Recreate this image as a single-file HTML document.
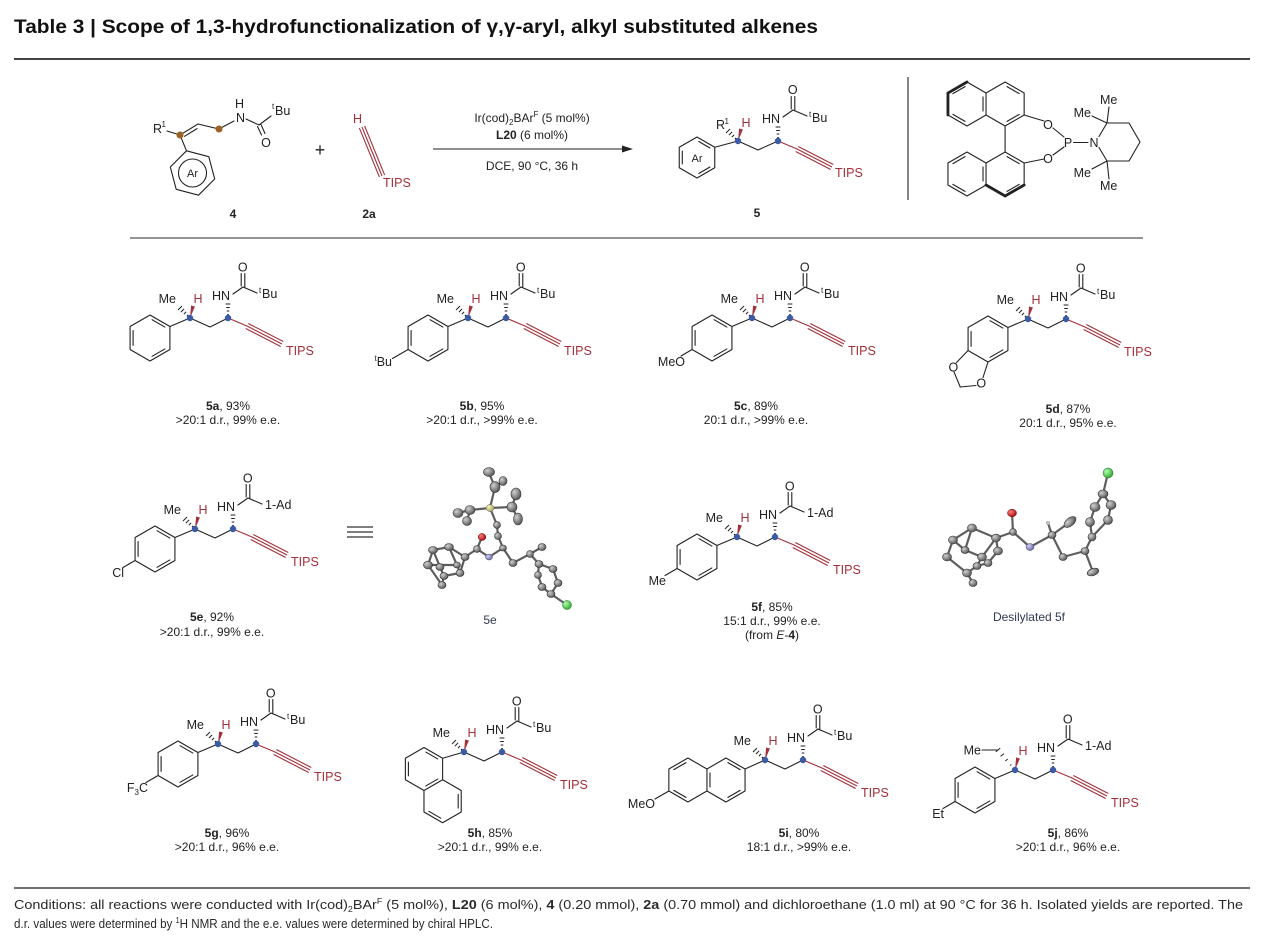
<!DOCTYPE html>
<html><head><meta charset="utf-8"><style>
html,body{margin:0;padding:0;background:#fff}
svg{display:block;font-family:"Liberation Sans",Arial,sans-serif;font-size:12.5px;fill:#222}
.k{fill:none;stroke:#222;stroke-width:1.1;stroke-linejoin:round;stroke-linecap:round}
.kb{fill:none;stroke:#222;stroke-width:2.8;stroke-linecap:round}
.h{fill:none;stroke:#222;stroke-width:1}
.r{fill:none;stroke:#a3303a;stroke-width:1.1}
.rf{fill:#a3303a}
text.rt{fill:#a3303a}
.bd{fill:#3b5ba5}
text.lb{font-size:12px;fill:#222}
.xb{stroke:#5e5e5e;stroke-width:2.2;fill:none;stroke-linecap:round}
.xa{fill:url(#g);stroke:#333;stroke-width:.6}
</style></head><body>
<svg width="1269" height="950" viewBox="0 0 1269 950" xmlns="http://www.w3.org/2000/svg">
<defs>
<radialGradient id="g" cx="0.35" cy="0.35" r="0.75"><stop offset="0" stop-color="#d0d0d0"/><stop offset="1" stop-color="#4a4a4a"/></radialGradient>
<radialGradient id="gr" cx="0.35" cy="0.35" r="0.75"><stop offset="0" stop-color="#ff8080"/><stop offset="1" stop-color="#a00000"/></radialGradient>
<radialGradient id="gb" cx="0.35" cy="0.35" r="0.75"><stop offset="0" stop-color="#d0d0f0"/><stop offset="1" stop-color="#6060a0"/></radialGradient>
<radialGradient id="gg" cx="0.35" cy="0.35" r="0.75"><stop offset="0" stop-color="#b0ffb0"/><stop offset="1" stop-color="#20a020"/></radialGradient>
<radialGradient id="gy" cx="0.35" cy="0.35" r="0.75"><stop offset="0" stop-color="#f4f4c0"/><stop offset="1" stop-color="#a0a050"/></radialGradient>
</defs>

<!-- Title -->
<text x="14" y="33" font-size="19.5" font-weight="bold" fill="#111" textLength="804" lengthAdjust="spacingAndGlyphs">Table 3 | Scope of 1,3-hydrofunctionalization of γ,γ-aryl, alkyl substituted alkenes</text>
<line x1="14" y1="59" x2="1250" y2="59" stroke="#444" stroke-width="2"/>

<!-- ===== Scheme: compound 4 ===== -->
<g>
<text x="153" y="133">R</text><text x="161.5" y="127" font-size="8">1</text>
<path class="k" d="M167,131L180,135M180,135L198,124M184.5,136.3L197.1,128.6M198,124L219,129L234,121M246,119L259,125L271,116M257.5,126.5L261.5,135M261,124.5L265,133.5"/>
<text x="236" y="122">N</text>
<text x="235" y="108">H</text>
<text x="272" y="109" font-size="8">t</text><text x="275" y="115">Bu</text>
<text x="266" y="147" text-anchor="middle">O</text>
<path class="k" d="M180,135L186.5,150.8M186.5,150.8L208.8,156.7L214.7,179L198.5,195.2L176.2,189.3L170.3,167Z"/>
<circle cx="192.5" cy="173" r="14" class="k"/>
<text x="192.5" y="177" text-anchor="middle" font-size="11">Ar</text>
<circle cx="180" cy="135" r="3.5" fill="#9a6323"/>
<circle cx="219" cy="129" r="3.5" fill="#9a6323"/>
<text x="233" y="218" text-anchor="middle" font-weight="bold" font-size="12">4</text>
</g>
<text x="320" y="156" text-anchor="middle" font-size="18">+</text>
<!-- 2a -->
<g>
<text class="rt" x="353" y="123">H</text>
<path class="r" d="M362,127L382,176M364.6,125.9L384.6,174.9M359.4,128.1L379.4,177.1"/>
<text class="rt" x="383" y="187">TIPS</text>
<text x="369" y="218" text-anchor="middle" font-weight="bold" font-size="12">2a</text>
</g>
<!-- arrow -->
<text x="532" y="122" text-anchor="middle" font-size="12">Ir(cod)<tspan font-size="8" dy="3">2</tspan><tspan dy="-3">BAr</tspan><tspan font-size="8" dy="-5">F</tspan><tspan dy="5"> (5 mol%)</tspan></text>
<text x="532" y="139" text-anchor="middle" font-size="12"><tspan font-weight="bold">L20</tspan> (6 mol%)</text>
<line x1="433" y1="149" x2="624" y2="149" stroke="#222" stroke-width="1.1"/>
<polygon points="633,149 622,145.5 622,152.5" fill="#222"/>
<text x="532" y="170" text-anchor="middle" font-size="12">DCE, 90 °C, 36 h</text>

<!-- scheme product 5 -->
<g transform="translate(738,141)">
<path class="k" d="M-23.25,6.25L0,0M-41,-4L-23.25,6.25V26.75L-41,37L-58.75,26.75V6.25ZM-39.23,0.52L-28.05,6.98M-28.05,26.02L-39.23,32.48M-55.72,22.96V10.04"/>
<text x="-41" y="21" text-anchor="middle" font-size="11">Ar</text>
<path class="k" d="M0,0L20,9L40,0M45,-24L55,-31L69,-25M53.2,-32V-44.5M56.8,-30.5V-44.5"/>
<path class="h" d="M-1.9,-3.1L-3.1,-1.9M-3.9,-6.1L-6.1,-3.9M-5.9,-9.1L-9.1,-5.9M-8,-12L-12,-8M39.2,-3.5H40.8M38.7,-7H41.3M38.2,-10.5H41.8M37.6,-14H42.4"/>
<polygon class="rf" points="0,0 4.9,-11.5 1.1,-12.5"/>
<path class="r" d="M40,0L59,8L94,26M57.7,10.5L92.7,28.5M60.3,5.5L95.3,23.5"/>
<circle class="bd" r="3.2"/><circle class="bd" cx="40" r="3.2"/>
<text x="-22" y="-12">R</text><text x="-13.5" y="-17" font-size="8">1</text>
<text class="rt" x="3.5" y="-14">H</text>
<text x="24" y="-18">HN</text>
<text x="54.8" y="-47" text-anchor="middle">O</text>
<text x="71" y="-24" font-size="8">t</text><text x="74" y="-19">Bu</text>
<text class="rt" x="97" y="36">TIPS</text>
<text x="19" y="76" text-anchor="middle" font-weight="bold" font-size="12">5</text>
</g>

<line x1="908" y1="77" x2="908" y2="200" stroke="#333" stroke-width="1.2"/>

<!-- L20 ligand -->
<g>
<path class="k" d="M967,82L986.05,93V115L967,126L947.95,115V93ZM986.05,93L1005.1,82L1024.15,93V115L1005.1,126L986.05,115M965.08,86.61L952.9,93.64M952.9,114.36L965.08,121.39M983.02,96.97V111.03M1007.02,86.61L1019.2,93.64M1019.2,114.36L1007.02,121.39"/>
<path class="kb" d="M947.95,115V93L967,82"/>
<path class="k" d="M1005.1,126V152M1024.15,115L1044,121M1024.15,163L1044,159"/>
<path class="k" d="M967,152L986.05,163V185L967,196L947.95,185V163ZM986.05,163L1005.1,152L1024.15,163V185L1005.1,196L986.05,185M965.08,156.61L952.9,163.64M952.9,184.36L965.08,191.39M983.02,166.97V181.03M1007.02,156.61L1019.2,163.64M1019.2,184.36L1007.02,191.39"/>
<path class="kb" d="M986.05,185L1005.1,196L1024.15,185"/>
<text x="1048" y="129" text-anchor="middle">O</text>
<text x="1048" y="163" text-anchor="middle">O</text>
<path class="k" d="M1053,128L1064,137M1053,155L1064,147M1073.5,142.5H1088"/>
<text x="1068" y="147" text-anchor="middle">P</text>
<text x="1094" y="147" text-anchor="middle">N</text>
<path class="k" d="M1099,136.5L1107,123L1129,123L1140,142L1129,161L1107,161L1099,147.5M1107,123L1092,116M1107,123L1109,107M1107,161L1092,169M1107,161L1109,179"/>
<text x="1091" y="117" text-anchor="end">Me</text>
<text x="1100" y="104">Me</text>
<text x="1091" y="177" text-anchor="end">Me</text>
<text x="1100" y="190">Me</text>
</g>

<line x1="130" y1="238" x2="1143" y2="238" stroke="#555" stroke-width="1.2"/>

<!-- ===== 5a ===== -->
<g transform="translate(190,318)">
<path class="k" d="M-20.08,8.5L0,0M-40,-3L-20.08,8.5V31.5L-40,43L-59.92,31.5V8.5ZM-37.97,1.67L-25.13,9.08M-25.13,30.92L-37.97,38.33M-56.9,27.41V12.59"/>
<path class="k" d="M0,0L20,9L38,0M43,-24L53,-31L67,-25M51.2,-32V-44.5M54.8,-30.5V-44.5"/>
<path class="h" d="M-1.9,-3.1L-3.1,-1.9M-3.9,-6.1L-6.1,-3.9M-5.9,-9.1L-9.1,-5.9M-8,-12L-12,-8M37.2,-3.5H38.8M36.7,-7H39.3M36.2,-10.5H39.8M35.6,-14H40.4"/>
<polygon class="rf" points="0,0 4.9,-11.5 1.1,-12.5"/>
<path class="r" d="M38,0L57,8L92,26M55.7,10.5L90.7,28.5M58.3,5.5L93.3,23.5"/>
<circle class="bd" r="3.2"/><circle class="bd" cx="38" r="3.2"/>
<text x="-14" y="-15" text-anchor="end">Me</text><text class="rt" x="3.5" y="-15">H</text><text x="22" y="-18">HN</text>
<text x="52.8" y="-46.5" text-anchor="middle">O</text><text x="69" y="-25" font-size="8">t</text><text x="72" y="-20">Bu</text>
<text class="rt" x="96" y="37">TIPS</text>
</g>
<text class="lb" x="228" y="410" text-anchor="middle"><tspan font-weight="bold">5a</tspan>, 93%</text>
<text class="lb" x="228" y="424" text-anchor="middle">&gt;20:1 d.r., 99% e.e.</text>

<!-- ===== 5b ===== -->
<g transform="translate(468,318)">
<path class="k" d="M-20.08,8.5L0,0M-40,-3L-20.08,8.5V31.5L-40,43L-59.92,31.5V8.5ZM-37.97,1.67L-25.13,9.08M-25.13,30.92L-37.97,38.33M-56.9,27.41V12.59M-59.92,31.5L-75.5,40.5"/>
<text x="-76" y="48" text-anchor="end"><tspan font-size="8" dy="-5">t</tspan><tspan dy="5">Bu</tspan></text>
<path class="k" d="M0,0L20,9L38,0M43,-24L53,-31L67,-25M51.2,-32V-44.5M54.8,-30.5V-44.5"/>
<path class="h" d="M-1.9,-3.1L-3.1,-1.9M-3.9,-6.1L-6.1,-3.9M-5.9,-9.1L-9.1,-5.9M-8,-12L-12,-8M37.2,-3.5H38.8M36.7,-7H39.3M36.2,-10.5H39.8M35.6,-14H40.4"/>
<polygon class="rf" points="0,0 4.9,-11.5 1.1,-12.5"/>
<path class="r" d="M38,0L57,8L92,26M55.7,10.5L90.7,28.5M58.3,5.5L93.3,23.5"/>
<circle class="bd" r="3.2"/><circle class="bd" cx="38" r="3.2"/>
<text x="-14" y="-15" text-anchor="end">Me</text><text class="rt" x="3.5" y="-15">H</text><text x="22" y="-18">HN</text>
<text x="52.8" y="-46.5" text-anchor="middle">O</text><text x="69" y="-25" font-size="8">t</text><text x="72" y="-20">Bu</text>
<text class="rt" x="96" y="37">TIPS</text>
</g>
<text class="lb" x="482" y="410" text-anchor="middle"><tspan font-weight="bold">5b</tspan>, 95%</text>
<text class="lb" x="482" y="424" text-anchor="middle">&gt;20:1 d.r., &gt;99% e.e.</text>

<!-- ===== 5c ===== -->
<g transform="translate(752,318)">
<path class="k" d="M-20.08,8.5L0,0M-40,-3L-20.08,8.5V31.5L-40,43L-59.92,31.5V8.5ZM-37.97,1.67L-25.13,9.08M-25.13,30.92L-37.97,38.33M-56.9,27.41V12.59M-59.92,31.5L-71,38"/>
<text x="-67" y="48" text-anchor="end">MeO</text>
<path class="k" d="M0,0L20,9L38,0M43,-24L53,-31L67,-25M51.2,-32V-44.5M54.8,-30.5V-44.5"/>
<path class="h" d="M-1.9,-3.1L-3.1,-1.9M-3.9,-6.1L-6.1,-3.9M-5.9,-9.1L-9.1,-5.9M-8,-12L-12,-8M37.2,-3.5H38.8M36.7,-7H39.3M36.2,-10.5H39.8M35.6,-14H40.4"/>
<polygon class="rf" points="0,0 4.9,-11.5 1.1,-12.5"/>
<path class="r" d="M38,0L57,8L92,26M55.7,10.5L90.7,28.5M58.3,5.5L93.3,23.5"/>
<circle class="bd" r="3.2"/><circle class="bd" cx="38" r="3.2"/>
<text x="-14" y="-15" text-anchor="end">Me</text><text class="rt" x="3.5" y="-15">H</text><text x="22" y="-18">HN</text>
<text x="52.8" y="-46.5" text-anchor="middle">O</text><text x="69" y="-25" font-size="8">t</text><text x="72" y="-20">Bu</text>
<text class="rt" x="96" y="37">TIPS</text>
</g>
<text class="lb" x="756" y="410" text-anchor="middle"><tspan font-weight="bold">5c</tspan>, 89%</text>
<text class="lb" x="756" y="424" text-anchor="middle">20:1 d.r., &gt;99% e.e.</text>

<!-- ===== 5d ===== -->
<g transform="translate(1028,319)">
<path class="k" d="M-20.08,8.5L0,0M-40,-3L-20.08,8.5V31.5L-40,43L-59.92,31.5V8.5ZM-37.97,1.67L-25.13,9.08M-25.13,30.92L-37.97,38.33M-56.9,27.41V12.59"/>
<path class="k" d="M-59.92,31.5L-71.5,43.5M-40,43L-45,58.5M-74,53L-67.75,68L-52,66.5"/>
<text x="-74.7" y="52.5" text-anchor="middle">O</text>
<text x="-46.8" y="68.5" text-anchor="middle">O</text>
<path class="k" d="M0,0L20,9L38,0M43,-24L53,-31L67,-25M51.2,-32V-44.5M54.8,-30.5V-44.5"/>
<path class="h" d="M-1.9,-3.1L-3.1,-1.9M-3.9,-6.1L-6.1,-3.9M-5.9,-9.1L-9.1,-5.9M-8,-12L-12,-8M37.2,-3.5H38.8M36.7,-7H39.3M36.2,-10.5H39.8M35.6,-14H40.4"/>
<polygon class="rf" points="0,0 4.9,-11.5 1.1,-12.5"/>
<path class="r" d="M38,0L57,8L92,26M55.7,10.5L90.7,28.5M58.3,5.5L93.3,23.5"/>
<circle class="bd" r="3.2"/><circle class="bd" cx="38" r="3.2"/>
<text x="-14" y="-15" text-anchor="end">Me</text><text class="rt" x="3.5" y="-15">H</text><text x="22" y="-18">HN</text>
<text x="52.8" y="-46.5" text-anchor="middle">O</text><text x="69" y="-25" font-size="8">t</text><text x="72" y="-20">Bu</text>
<text class="rt" x="96" y="37">TIPS</text>
</g>
<text class="lb" x="1068" y="413" text-anchor="middle"><tspan font-weight="bold">5d</tspan>, 87%</text>
<text class="lb" x="1068" y="427" text-anchor="middle">20:1 d.r., 95% e.e.</text>

<!-- ===== 5e ===== -->
<g transform="translate(195,529)">
<path class="k" d="M-20.08,8.5L0,0M-40,-3L-20.08,8.5V31.5L-40,43L-59.92,31.5V8.5ZM-37.97,1.67L-25.13,9.08M-25.13,30.92L-37.97,38.33M-56.9,27.41V12.59M-59.92,31.5L-72,38.5"/>
<text x="-71" y="48" text-anchor="end">Cl</text>
<path class="k" d="M0,0L20,9L38,0M43,-24L53,-31L67,-25M51.2,-32V-44.5M54.8,-30.5V-44.5"/>
<path class="h" d="M-1.9,-3.1L-3.1,-1.9M-3.9,-6.1L-6.1,-3.9M-5.9,-9.1L-9.1,-5.9M-8,-12L-12,-8M37.2,-3.5H38.8M36.7,-7H39.3M36.2,-10.5H39.8M35.6,-14H40.4"/>
<polygon class="rf" points="0,0 4.9,-11.5 1.1,-12.5"/>
<path class="r" d="M38,0L57,8L92,26M55.7,10.5L90.7,28.5M58.3,5.5L93.3,23.5"/>
<circle class="bd" r="3.2"/><circle class="bd" cx="38" r="3.2"/>
<text x="-14" y="-15" text-anchor="end">Me</text><text class="rt" x="3.5" y="-15">H</text><text x="22" y="-18">HN</text>
<text x="52.8" y="-46.5" text-anchor="middle">O</text><text x="70" y="-20">1-Ad</text>
<text class="rt" x="96" y="37">TIPS</text>
</g>
<text class="lb" x="212" y="621" text-anchor="middle"><tspan font-weight="bold">5e</tspan>, 92%</text>
<text class="lb" x="212" y="636" text-anchor="middle">&gt;20:1 d.r., 99% e.e.</text>

<!-- equivalence -->
<path d="M347,527H373M347,532H373M347,537H373" stroke="#333" stroke-width="1.2" fill="none"/>

<!-- crystal 5e -->
<g>
<path class="xb" d="M490,508L495,487M495,487L489,473M495,487L503,481M490,508L470,510M470,510L458,513M470,510L467,521M490,508L512,507M512,507L516,494M512,507L518,519M490,508L497,525L498,536L503,548L489,557L477,549L482,537M477,549L465,557M465,557L449,547L433,550L428,565L442,585L444,576L460,573L465,557M433,550L440,567L444,576M449,547L457,565L460,573M457,565L428,565M503,548L513,563L530,554L542,547M530,554L539,564L553,569L558,583L551,594L542,587L538,575L539,564M551,594L567,605"/>
<ellipse class="xa" cx="489" cy="472" rx="5.5" ry="4.5"/>
<ellipse class="xa" cx="495" cy="487" rx="5" ry="5.5"/>
<ellipse class="xa" cx="503" cy="481" rx="4" ry="4.5"/>
<ellipse class="xa" cx="470" cy="510" rx="5" ry="4.5"/>
<ellipse class="xa" cx="458" cy="513" rx="5" ry="4.5"/>
<ellipse class="xa" cx="467" cy="521" rx="4.5" ry="4.5"/>
<ellipse class="xa" cx="512" cy="507" rx="5" ry="5"/>
<ellipse class="xa" cx="516" cy="494" rx="5" ry="6"/>
<ellipse class="xa" cx="518" cy="519" rx="4.5" ry="6"/>
<ellipse cx="490" cy="508" rx="4" ry="3.5" fill="url(#gy)" stroke="#666" stroke-width=".5"/>
<ellipse class="xa" cx="497" cy="525" rx="3.5" ry="3.5"/>
<ellipse class="xa" cx="498" cy="536" rx="3.5" ry="3.5"/>
<ellipse class="xa" cx="503" cy="548" rx="3.5" ry="3"/>
<ellipse cx="489" cy="557" rx="3.5" ry="3" fill="url(#gb)" stroke="#446" stroke-width=".5"/>
<ellipse class="xa" cx="477" cy="549" rx="3.5" ry="3.5"/>
<ellipse cx="482" cy="537" rx="3.8" ry="3.5" fill="url(#gr)" stroke="#600" stroke-width=".5"/>
<ellipse class="xa" cx="465" cy="557" rx="4" ry="3.5"/>
<ellipse class="xa" cx="449" cy="547" rx="4.5" ry="3.5"/>
<ellipse class="xa" cx="433" cy="550" rx="4.5" ry="3.5"/>
<ellipse class="xa" cx="428" cy="565" rx="4.5" ry="4"/>
<ellipse class="xa" cx="440" cy="567" rx="4" ry="3.5"/>
<ellipse class="xa" cx="444" cy="576" rx="4" ry="3.5"/>
<ellipse class="xa" cx="460" cy="573" rx="4" ry="3.5"/>
<ellipse class="xa" cx="457" cy="565" rx="3.5" ry="3"/>
<ellipse class="xa" cx="442" cy="585" rx="4" ry="3.5"/>
<ellipse class="xa" cx="513" cy="563" rx="4" ry="3.5"/>
<ellipse class="xa" cx="530" cy="554" rx="3.5" ry="3.5"/>
<ellipse class="xa" cx="542" cy="547" rx="4" ry="3.5"/>
<ellipse class="xa" cx="539" cy="564" rx="4" ry="3.5"/>
<ellipse class="xa" cx="553" cy="569" rx="4" ry="3.5"/>
<ellipse class="xa" cx="558" cy="583" rx="4" ry="3.5"/>
<ellipse class="xa" cx="551" cy="594" rx="4" ry="3.5"/>
<ellipse class="xa" cx="542" cy="587" rx="4" ry="3.5"/>
<ellipse class="xa" cx="538" cy="575" rx="3.5" ry="3.5"/>
<ellipse cx="567" cy="605" rx="4.5" ry="4.5" fill="url(#gg)" stroke="#262" stroke-width=".5"/>
</g>
<text x="490" y="624" text-anchor="middle" font-size="12" fill="#2e3b52">5e</text>

<!-- ===== 5f ===== -->
<g transform="translate(737,537)">
<path class="k" d="M-20.08,8.5L0,0M-40,-3L-20.08,8.5V31.5L-40,43L-59.92,31.5V8.5ZM-37.97,1.67L-25.13,9.08M-25.13,30.92L-37.97,38.33M-56.9,27.41V12.59M-59.92,31.5L-72,38.5"/>
<text x="-71" y="48" text-anchor="end">Me</text>
<path class="k" d="M0,0L20,9L38,0M43,-24L53,-31L67,-25M51.2,-32V-44.5M54.8,-30.5V-44.5"/>
<path class="h" d="M-1.9,-3.1L-3.1,-1.9M-3.9,-6.1L-6.1,-3.9M-5.9,-9.1L-9.1,-5.9M-8,-12L-12,-8M37.2,-3.5H38.8M36.7,-7H39.3M36.2,-10.5H39.8M35.6,-14H40.4"/>
<polygon class="rf" points="0,0 4.9,-11.5 1.1,-12.5"/>
<path class="r" d="M38,0L57,8L92,26M55.7,10.5L90.7,28.5M58.3,5.5L93.3,23.5"/>
<circle class="bd" r="3.2"/><circle class="bd" cx="38" r="3.2"/>
<text x="-14" y="-15" text-anchor="end">Me</text><text class="rt" x="3.5" y="-15">H</text><text x="22" y="-18">HN</text>
<text x="52.8" y="-46.5" text-anchor="middle">O</text><text x="70" y="-20">1-Ad</text>
<text class="rt" x="96" y="37">TIPS</text>
</g>
<text class="lb" x="772" y="611" text-anchor="middle"><tspan font-weight="bold">5f</tspan>, 85%</text>
<text class="lb" x="772" y="625" text-anchor="middle">15:1 d.r., 99% e.e.</text>
<text class="lb" x="772" y="639" text-anchor="middle">(from <tspan font-style="italic">E</tspan>-<tspan font-weight="bold">4</tspan>)</text>

<!-- crystal desilylated 5f -->
<g>
<path class="xb" d="M1108,473L1103,494L1111,505L1108,520L1092,537L1090,522L1095,507L1103,494M1092,537L1085,551L1093,572M1085,551L1063,557L1052,535L1030,547L1013,532L1012,513M1052,535L1070,522M1052,535L1048,523M1013,532L996,538L972,528L953,540L947,557L967,573L973,583M996,538L998,551L988,563L977,566L967,573M996,538L982,557L965,550L953,540M982,557L977,566M972,528L965,550"/>
<ellipse cx="1108" cy="473" rx="5" ry="5" fill="url(#gg)" stroke="#262" stroke-width=".5"/>
<ellipse class="xa" cx="1103" cy="494" rx="5" ry="4"/>
<ellipse class="xa" cx="1111" cy="505" rx="5" ry="4.5"/>
<ellipse class="xa" cx="1095" cy="507" rx="5" ry="4.5"/>
<ellipse class="xa" cx="1108" cy="520" rx="4.5" ry="4.5"/>
<ellipse class="xa" cx="1090" cy="522" rx="4.5" ry="4.5"/>
<ellipse class="xa" cx="1092" cy="537" rx="4" ry="4"/>
<ellipse class="xa" cx="1085" cy="551" rx="4" ry="3.5"/>
<ellipse class="xa" cx="1093" cy="572" rx="6" ry="3.5" transform="rotate(-20 1093 572)"/>
<ellipse class="xa" cx="1063" cy="557" rx="4" ry="3.5"/>
<ellipse class="xa" cx="1052" cy="535" rx="4" ry="3.5"/>
<ellipse class="xa" cx="1070" cy="522" rx="7" ry="4" transform="rotate(-40 1070 522)"/>
<circle cx="1048" cy="523" r="1.8" fill="#ccc" stroke="#777" stroke-width=".4"/>
<ellipse cx="1030" cy="547" rx="4" ry="3.5" fill="url(#gb)" stroke="#446" stroke-width=".5"/>
<ellipse class="xa" cx="1013" cy="532" rx="3.5" ry="3.5"/>
<ellipse cx="1012" cy="513" rx="4.5" ry="3.8" fill="url(#gr)" stroke="#600" stroke-width=".5"/>
<ellipse class="xa" cx="996" cy="538" rx="4.5" ry="4"/>
<ellipse class="xa" cx="972" cy="528" rx="4.5" ry="4"/>
<ellipse class="xa" cx="998" cy="551" rx="4.5" ry="4"/>
<ellipse class="xa" cx="953" cy="540" rx="4.5" ry="4"/>
<ellipse class="xa" cx="947" cy="557" rx="4.5" ry="4"/>
<ellipse class="xa" cx="965" cy="550" rx="4" ry="3.5"/>
<ellipse class="xa" cx="982" cy="557" rx="4.5" ry="4"/>
<ellipse class="xa" cx="977" cy="566" rx="4" ry="3.5"/>
<ellipse class="xa" cx="967" cy="573" rx="4.5" ry="4"/>
<ellipse class="xa" cx="973" cy="583" rx="4" ry="3.5"/>
<ellipse class="xa" cx="988" cy="563" rx="4" ry="3.5"/>
</g>
<text x="1029" y="621" text-anchor="middle" font-size="12" fill="#2e3b52">Desilylated 5f</text>

<!-- ===== 5g ===== -->
<g transform="translate(218,744)">
<path class="k" d="M-20.08,8.5L0,0M-40,-3L-20.08,8.5V31.5L-40,43L-59.92,31.5V8.5ZM-37.97,1.67L-25.13,9.08M-25.13,30.92L-37.97,38.33M-56.9,27.41V12.59M-59.92,31.5L-72,38.5"/>
<text x="-70" y="48" text-anchor="end">F<tspan font-size="8" dy="3">3</tspan><tspan dy="-3">C</tspan></text>
<path class="k" d="M0,0L20,9L38,0M43,-24L53,-31L67,-25M51.2,-32V-44.5M54.8,-30.5V-44.5"/>
<path class="h" d="M-1.9,-3.1L-3.1,-1.9M-3.9,-6.1L-6.1,-3.9M-5.9,-9.1L-9.1,-5.9M-8,-12L-12,-8M37.2,-3.5H38.8M36.7,-7H39.3M36.2,-10.5H39.8M35.6,-14H40.4"/>
<polygon class="rf" points="0,0 4.9,-11.5 1.1,-12.5"/>
<path class="r" d="M38,0L57,8L92,26M55.7,10.5L90.7,28.5M58.3,5.5L93.3,23.5"/>
<circle class="bd" r="3.2"/><circle class="bd" cx="38" r="3.2"/>
<text x="-14" y="-15" text-anchor="end">Me</text><text class="rt" x="3.5" y="-15">H</text><text x="22" y="-18">HN</text>
<text x="52.8" y="-46.5" text-anchor="middle">O</text><text x="69" y="-25" font-size="8">t</text><text x="72" y="-20">Bu</text>
<text class="rt" x="96" y="37">TIPS</text>
</g>
<text class="lb" x="227" y="837" text-anchor="middle"><tspan font-weight="bold">5g</tspan>, 96%</text>
<text class="lb" x="227" y="851" text-anchor="middle">&gt;20:1 d.r., 96% e.e.</text>

<!-- ===== 5h ===== -->
<g transform="translate(464,752)">
<path class="k" d="M-21.38,6.25L0,0M-40,-4.5L-21.38,6.25V27.75L-40,38.5L-58.62,27.75V6.25ZM-21.38,27.75L-2.78,38.5V60L-21.4,70.75L-40.02,60V38.5M-55.59,23.84V10.16M-38.13,0.08L-26.28,6.92M-26.28,27.08L-38.13,33.92M-5.81,42.41V56.09M-23.27,66.17L-35.12,59.33"/>
<path class="k" d="M0,0L20,9L38,0M43,-24L53,-31L67,-25M51.2,-32V-44.5M54.8,-30.5V-44.5"/>
<path class="h" d="M-1.9,-3.1L-3.1,-1.9M-3.9,-6.1L-6.1,-3.9M-5.9,-9.1L-9.1,-5.9M-8,-12L-12,-8M37.2,-3.5H38.8M36.7,-7H39.3M36.2,-10.5H39.8M35.6,-14H40.4"/>
<polygon class="rf" points="0,0 4.9,-11.5 1.1,-12.5"/>
<path class="r" d="M38,0L57,8L92,26M55.7,10.5L90.7,28.5M58.3,5.5L93.3,23.5"/>
<circle class="bd" r="3.2"/><circle class="bd" cx="38" r="3.2"/>
<text x="-14" y="-15" text-anchor="end">Me</text><text class="rt" x="3.5" y="-15">H</text><text x="22" y="-18">HN</text>
<text x="52.8" y="-46.5" text-anchor="middle">O</text><text x="69" y="-25" font-size="8">t</text><text x="72" y="-20">Bu</text>
<text class="rt" x="96" y="37">TIPS</text>
</g>
<text class="lb" x="490" y="837" text-anchor="middle"><tspan font-weight="bold">5h</tspan>, 85%</text>
<text class="lb" x="490" y="851" text-anchor="middle">&gt;20:1 d.r., 99% e.e.</text>

<!-- ===== 5i ===== -->
<g transform="translate(765,760)">
<path class="k" d="M-19.95,9L0,0M-39,-2L-19.95,9V31L-39,42L-58.05,31V9ZM-58.05,9L-77.1,-2L-96.15,9V31L-77.1,42L-58.05,31M-37.08,2.61L-24.9,9.64M-24.9,30.36L-37.08,37.39M-55.02,12.97V27.03M-79.02,2.61L-91.2,9.64M-91.2,30.36L-79.02,37.39M-96.15,31L-110,39"/>
<text x="-110" y="48" text-anchor="end">MeO</text>
<path class="k" d="M0,0L20,9L38,0M43,-24L53,-31L67,-25M51.2,-32V-44.5M54.8,-30.5V-44.5"/>
<path class="h" d="M-1.9,-3.1L-3.1,-1.9M-3.9,-6.1L-6.1,-3.9M-5.9,-9.1L-9.1,-5.9M-8,-12L-12,-8M37.2,-3.5H38.8M36.7,-7H39.3M36.2,-10.5H39.8M35.6,-14H40.4"/>
<polygon class="rf" points="0,0 4.9,-11.5 1.1,-12.5"/>
<path class="r" d="M38,0L57,8L92,26M55.7,10.5L90.7,28.5M58.3,5.5L93.3,23.5"/>
<circle class="bd" r="3.2"/><circle class="bd" cx="38" r="3.2"/>
<text x="-14" y="-15" text-anchor="end">Me</text><text class="rt" x="3.5" y="-15">H</text><text x="22" y="-18">HN</text>
<text x="52.8" y="-46.5" text-anchor="middle">O</text><text x="69" y="-25" font-size="8">t</text><text x="72" y="-20">Bu</text>
<text class="rt" x="96" y="37">TIPS</text>
</g>
<text class="lb" x="799" y="837" text-anchor="middle"><tspan font-weight="bold">5i</tspan>, 80%</text>
<text class="lb" x="799" y="851" text-anchor="middle">18:1 d.r., &gt;99% e.e.</text>

<!-- ===== 5j ===== -->
<g transform="translate(1015,770)">
<path class="k" d="M-20.08,8.5L0,0M-40,-3L-20.08,8.5V31.5L-40,43L-59.92,31.5V8.5ZM-37.97,1.67L-25.13,9.08M-25.13,30.92L-37.97,38.33M-56.9,27.41V12.59M-59.92,31.5L-72,38.5"/>
<text x="-71" y="48" text-anchor="end">Et</text>
<path class="k" d="M0,0L20,9L38,0M43,-24L53,-31L67,-25M51.2,-32V-44.5M54.8,-30.5V-44.5M-17,-20H-33"/>
<path class="h" d="M-3.64,-5.52L-4.86,-4.48M-7.36,-10.97L-9.64,-9.03M-11.07,-16.43L-14.43,-13.57M-14.79,-21.88L-19.21,-18.12M37.2,-3.5H38.8M36.7,-7H39.3M36.2,-10.5H39.8M35.6,-14H40.4"/>
<polygon class="rf" points="0,0 4.9,-11.5 1.1,-12.5"/>
<path class="r" d="M38,0L57,8L92,26M55.7,10.5L90.7,28.5M58.3,5.5L93.3,23.5"/>
<circle class="bd" r="3.2"/><circle class="bd" cx="38" r="3.2"/>
<text x="-34" y="-15.5" text-anchor="end">Me</text><text class="rt" x="3.5" y="-15">H</text><text x="22" y="-18">HN</text>
<text x="52.8" y="-46.5" text-anchor="middle">O</text><text x="70" y="-20">1-Ad</text>
<text class="rt" x="96" y="37">TIPS</text>
</g>
<text class="lb" x="1068" y="837" text-anchor="middle"><tspan font-weight="bold">5j</tspan>, 86%</text>
<text class="lb" x="1068" y="851" text-anchor="middle">&gt;20:1 d.r., 96% e.e.</text>

<!-- Footnote -->
<line x1="14" y1="888" x2="1250" y2="888" stroke="#444" stroke-width="1.5"/>
<text x="14" y="909" font-size="13" fill="#2a2a2a" textLength="1229" lengthAdjust="spacingAndGlyphs">Conditions: all reactions were conducted with Ir(cod)<tspan font-size="8" dy="3">2</tspan><tspan dy="-3">BAr</tspan><tspan font-size="8" dy="-5">F</tspan><tspan dy="5"> (5 mol%), </tspan><tspan font-weight="bold">L20</tspan> (6 mol%), <tspan font-weight="bold">4</tspan> (0.20 mmol), <tspan font-weight="bold">2a</tspan> (0.70 mmol) and dichloroethane (1.0 ml) at 90 °C for 36 h. Isolated yields are reported. The</text>
<text x="14" y="928" font-size="13" fill="#2a2a2a" textLength="479" lengthAdjust="spacingAndGlyphs">d.r. values were determined by <tspan font-size="8" dy="-5">1</tspan><tspan dy="5">H NMR and the e.e. values were determined by chiral HPLC.</tspan></text>
</svg>
</body></html>
